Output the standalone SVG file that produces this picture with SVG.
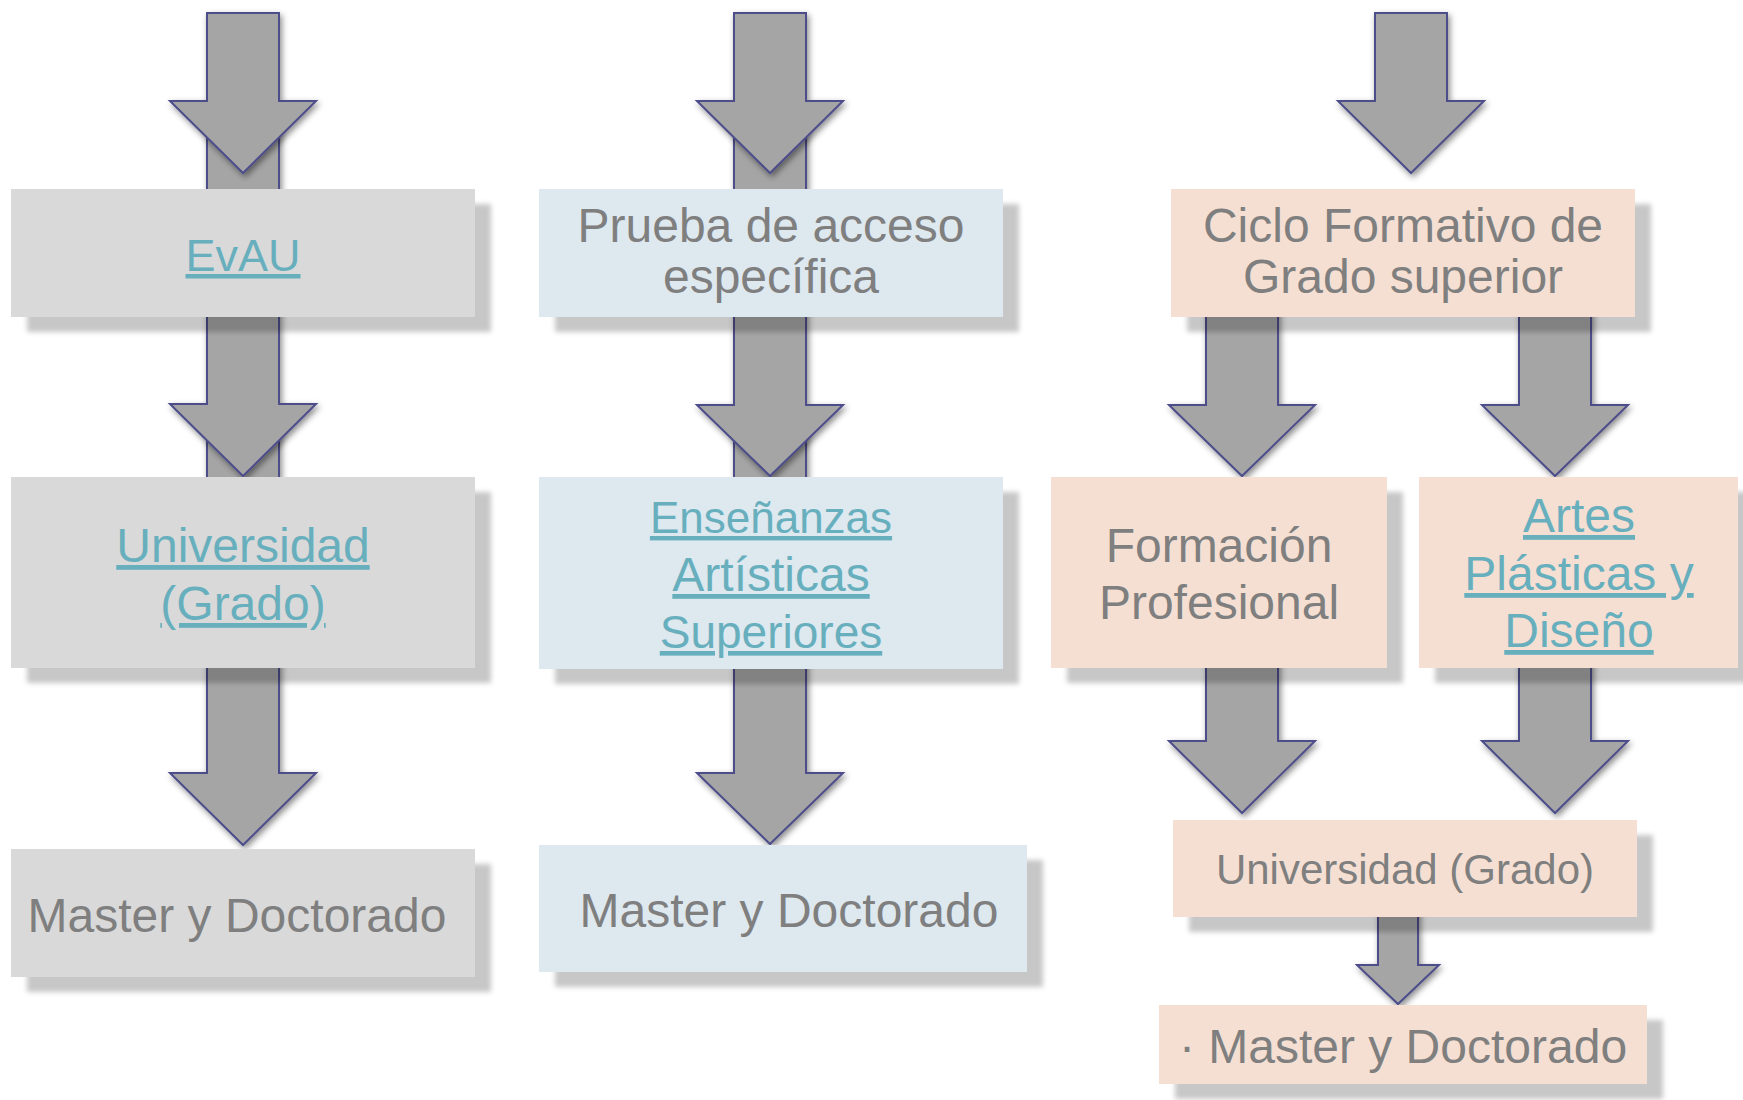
<svg xmlns="http://www.w3.org/2000/svg" width="1743" height="1100" viewBox="0 0 1743 1100">
<defs>
<filter id="arrowShadow" x="-20%" y="-20%" width="140%" height="140%">
<feDropShadow dx="2" dy="3" stdDeviation="3" flood-color="#000" flood-opacity="0.45"/>
</filter>
<filter id="boxShadow" x="-10%" y="-10%" width="130%" height="140%">
<feDropShadow dx="16" dy="15" stdDeviation="2.5" flood-color="#000" flood-opacity="0.22"/>
</filter>
<style>
.arrow{fill:#a5a5a5;stroke:#4d4e8a;stroke-width:2;stroke-linejoin:miter;filter:url(#arrowShadow)}
.box{filter:url(#boxShadow)}
.grey{fill:#d9d9d9}
.blue{fill:#dee8ef}
.peach{fill:#f5dfd3}
text{font-family:"Liberation Sans",Arial,sans-serif;font-size:48px;text-anchor:middle;fill:#7f7f7f}
.link{fill:#68afbe;text-decoration:underline}
</style>
</defs>
<rect width="1743" height="1100" fill="#ffffff"/>

<g id="connectors">
<!-- column 1 -->
<path class="arrow" d="M207,415 H279 V773 H316 L243,845 L170,773 H207 Z"/>
<path class="arrow" d="M207,110 H279 V404 H316 L243,476 L170,404 H207 Z"/>
<path class="arrow" d="M207,13 H279 V101 H316 L243,173 L170,101 H207 Z"/>
<!-- column 2 -->
<path class="arrow" d="M734,415 H806 V773 H843 L770,844 L697,773 H734 Z"/>
<path class="arrow" d="M734,110 H806 V405 H843 L770,476 L697,405 H734 Z"/>
<path class="arrow" d="M734,13 H806 V101 H843 L770,173 L697,101 H734 Z"/>
<!-- column 3 -->
<path class="arrow" d="M1378,860 H1418 V965 H1439 L1398,1004 L1357,965 H1378 Z"/>
<path class="arrow" d="M1206,520 H1278 V741 H1315 L1242,813 L1169,741 H1206 Z"/>
<path class="arrow" d="M1519,520 H1591 V741 H1628 L1555,813 L1482,741 H1519 Z"/>
<path class="arrow" d="M1206,230 H1278 V405 H1315 L1242,476 L1169,405 H1206 Z"/>
<path class="arrow" d="M1519,230 H1591 V405 H1628 L1555,476 L1482,405 H1519 Z"/>
<path class="arrow" d="M1375,13 H1447 V101 H1484 L1411,173 L1338,101 H1375 Z"/>
</g>

<g id="node-evau">
<rect class="box grey" x="11" y="189" width="464" height="128"/>
<text class="link" x="243" y="271" style="font-size:45px">EvAU</text>
</g>
<g id="node-universidad-grado-1">
<rect class="box grey" x="11" y="477" width="464" height="191"/>
<text class="link" x="243" y="562">Universidad</text>
<text class="link" x="243" y="620">(Grado)</text>
</g>
<g id="node-master-1">
<rect class="box grey" x="11" y="849" width="464" height="128"/>
<text x="237" y="932">Master y Doctorado</text>
</g>

<g id="node-prueba">
<rect class="box blue" x="539" y="189" width="464" height="128"/>
<text x="771" y="242" font-size="46">Prueba de acceso</text>
<text x="771" y="293" font-size="46">específica</text>
</g>
<g id="node-ensenanzas">
<rect class="box blue" x="539" y="477" width="464" height="192"/>
<text class="link" x="771" y="533" style="font-size:44px">Enseñanzas</text>
<text class="link" x="771" y="591">Artísticas</text>
<text class="link" x="771" y="648" style="font-size:46px">Superiores</text>
</g>
<g id="node-master-2">
<rect class="box blue" x="539" y="845" width="488" height="127"/>
<text x="789" y="927">Master y Doctorado</text>
</g>

<g id="node-ciclo">
<rect class="box peach" x="1171" y="189" width="464" height="128"/>
<text x="1403" y="242">Ciclo Formativo de</text>
<text x="1403" y="293">Grado superior</text>
</g>
<g id="node-fp">
<rect class="box peach" x="1051" y="477" width="336" height="191"/>
<text x="1219" y="562">Formación</text>
<text x="1219" y="619">Profesional</text>
</g>
<g id="node-artes">
<rect class="box peach" x="1419" y="477" width="319" height="191"/>
<text class="link" x="1579" y="532">Artes</text>
<text class="link" x="1579" y="590">Plásticas y</text>
<text class="link" x="1579" y="647">Diseño</text>
</g>
<g id="node-universidad-grado-3">
<rect class="box peach" x="1173" y="820" width="464" height="97"/>
<text x="1405" y="884" style="font-size:42px">Universidad (Grado)</text>
</g>
<g id="node-master-3">
<rect class="box peach" x="1159" y="1005" width="488" height="79"/>
<text x="1403" y="1063">· Master y Doctorado</text>
</g>
</svg>
